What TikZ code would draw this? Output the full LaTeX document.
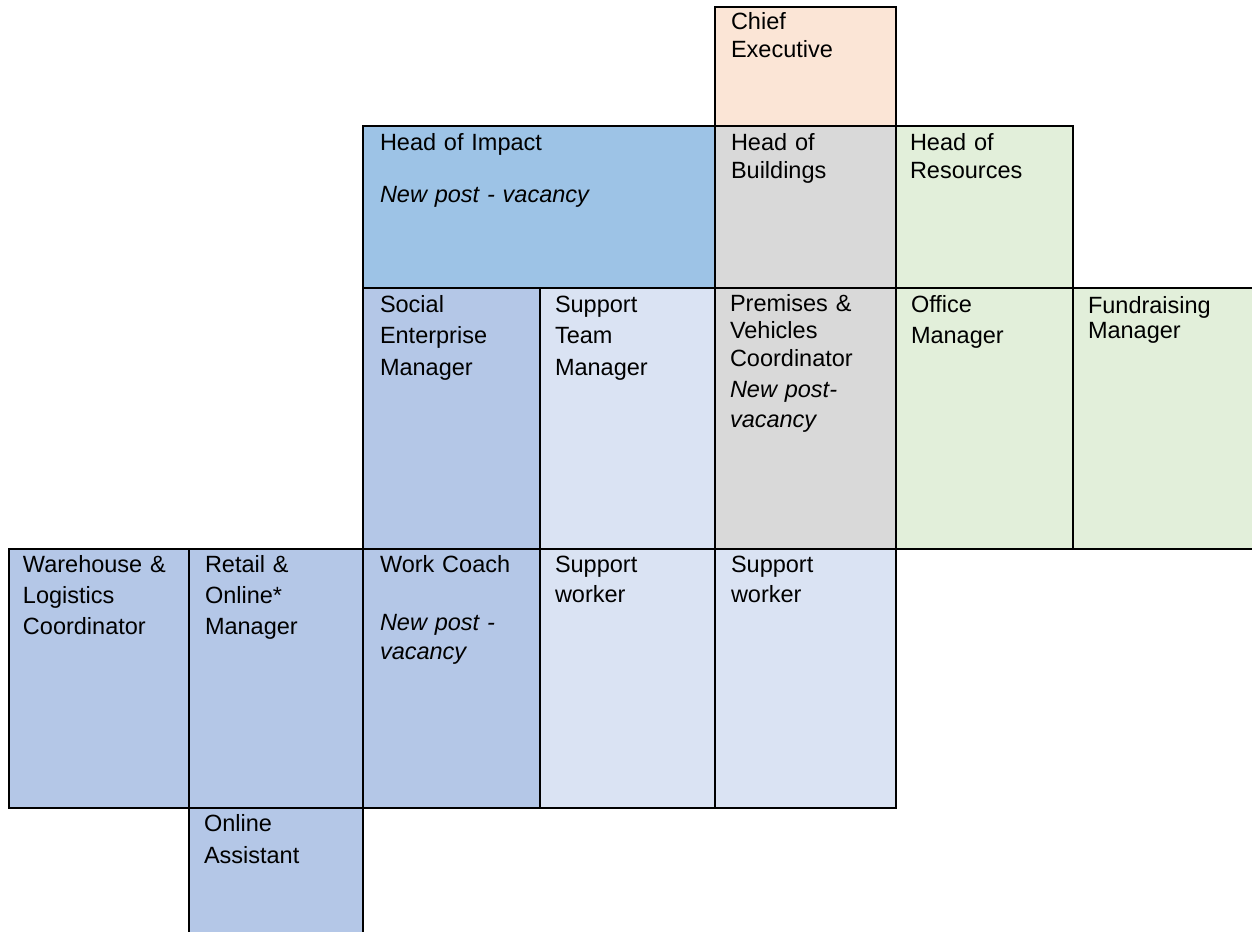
\documentclass[tikz,border=0pt]{standalone}
\usepackage{fontspec}
\setmainfont{Liberation Sans}
\definecolor{cchief}{HTML}{FBE5D6}
\definecolor{cimpact}{HTML}{9DC3E6}
\definecolor{cgray}{HTML}{D9D9D9}
\definecolor{cgreen}{HTML}{E2EFDA}
\definecolor{cblue}{HTML}{B4C7E7}
\definecolor{clight}{HTML}{DAE3F3}
\begin{document}
\begin{tikzpicture}[x=1pt,y=-1pt,
  cell/.style={draw=black,line width=2pt,inner sep=0pt,outer sep=0pt},
  label/.style={anchor=base west,inner sep=0pt,outer sep=0pt,align=left,text width=#1,text=black},
  label/.default=155pt,
  fs/.style={font=\fontsize{23.5}{#1}\selectfont}]
\useasboundingbox[fill=white] (0,0) rectangle (1252,931);
% cells
\node[cell,fill=cchief,minimum width=181pt,minimum height=119pt] (chief) at (805.5,66.5) {};
\node[cell,fill=cimpact,minimum width=352pt,minimum height=162pt] (impact) at (539,207) {};
\node[cell,fill=cgray,minimum width=181pt,minimum height=162pt] (buildings) at (805.5,207) {};
\node[cell,fill=cgreen,minimum width=177pt,minimum height=162pt] (resources) at (984.5,207) {};
\node[cell,fill=cblue,minimum width=177pt,minimum height=261pt] (social) at (451.5,418.5) {};
\node[cell,fill=clight,minimum width=175pt,minimum height=261pt] (supteam) at (627.5,418.5) {};
\node[cell,fill=cgray,minimum width=181pt,minimum height=261pt] (premises) at (805.5,418.5) {};
\node[cell,fill=cgreen,minimum width=177pt,minimum height=261pt] (office) at (984.5,418.5) {};
\node[cell,fill=cgreen,minimum width=183pt,minimum height=261pt] (fund) at (1164.5,418.5) {};
\node[cell,fill=cblue,minimum width=180pt,minimum height=259pt] (warehouse) at (99,678.5) {};
\node[cell,fill=cblue,minimum width=174pt,minimum height=259pt] (retail) at (276,678.5) {};
\node[cell,fill=cblue,minimum width=177pt,minimum height=259pt] (workcoach) at (451.5,678.5) {};
\node[cell,fill=clight,minimum width=175pt,minimum height=259pt] (swa) at (627.5,678.5) {};
\node[cell,fill=clight,minimum width=181pt,minimum height=259pt] (swb) at (805.5,678.5) {};
\node[cell,fill=cblue,minimum width=174pt,minimum height=128pt] (online) at (276,872) {};
% texts
\node[label,fs=28pt] (tchief) at (731,30) {Chief\\Executive};
\node[label=330pt,fs=26pt] (timpact) at (380,150) {Head of Impact\\[26pt]\textit{New post - vacancy}};
\node[label,fs=28pt] (tbuild) at (731,150) {Head of\\Buildings};
\node[label,fs=28pt] (tres) at (910,150) {Head of\\Resources};
\node[label,fs=31.5pt] (tsocial) at (380,312) {Social\\Enterprise\\Manager};
\node[label,fs=31.5pt] (tsupteam) at (555,312) {Support\\Team\\Manager};
\node[label,fs=27.5pt] (tprem) at (730,311) {Premises \&\\Vehicles\\Coordinator\\[4pt]\textit{New post-}\\[2pt]\textit{vacancy}};
\node[label,fs=31pt] (toffice) at (911,312) {Office\\Manager};
\node[label,fs=25pt] (tfund) at (1088,313) {Fundraising\\Manager};
\node[label,fs=31pt] (tware) at (23,572) {Warehouse \&\\Logistics\\Coordinator};
\node[label,fs=31pt] (tretail) at (205,572) {Retail \&\\Online*\\Manager};
\node[label,fs=29pt] (twork) at (380,572) {Work Coach\\[29pt]\textit{New post -}\\\textit{vacancy}};
\node[label,fs=30pt] (tswa) at (555,572) {Support\\worker};
\node[label,fs=30pt] (tswb) at (731,572) {Support\\worker};
\node[label,fs=32pt] (tonline) at (204,831) {Online\\Assistant};
\end{tikzpicture}
\end{document}
